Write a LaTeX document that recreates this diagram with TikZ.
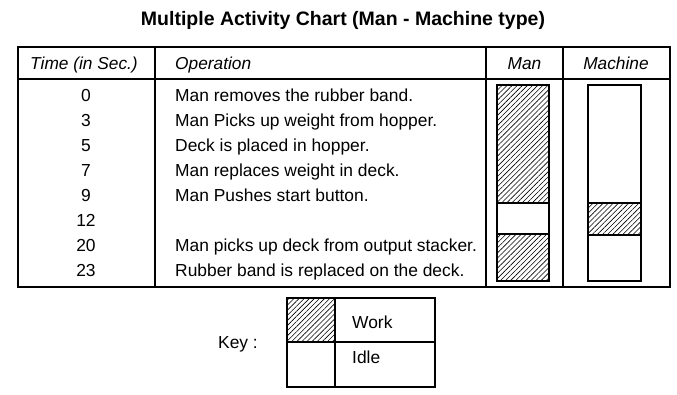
\documentclass[tikz,border=0pt]{standalone}
\usepackage{fontspec}
\setmainfont{Liberation Sans}
\usetikzlibrary{patterns.meta}

\begin{document}
\begin{tikzpicture}[x=1pt, y=-1pt,
  frame/.style={line width=1.7pt},
  rule/.style={line width=1.2pt},
  bar/.style={draw, line width=1.4pt},
  hatch/.style={pattern={Lines[angle=45, distance=3.6pt, line width=0.6pt]}},
  work/.style={bar, hatch},
  idle/.style={bar, fill=white},
  head/.style={font=\fontsize{17.3}{19}\selectfont\itshape, inner sep=0pt},
  cell/.style={font=\fontsize{17.4}{19}\selectfont, inner sep=0pt}
]
  \useasboundingbox (0,0) rectangle (677,394);
  \node[font=\fontsize{19.5}{22}\selectfont\bfseries, inner sep=0pt, anchor=base] (title) at (343,25)
    {Multiple Activity Chart (Man - Machine type)};

  % table frame and rules
  \draw[frame] (18,47) rectangle (670,287);
  \draw[rule] (18,79) -- (670,79);
  \foreach \x in {155,486,563}
    \draw[rule] (\x,47) -- (\x,287);

  \node[head, anchor=base] (htime) at (84,69) {Time (in Sec.)};
  \node[head, anchor=base west] (hop) at (175,69) {Operation};
  \node[head, anchor=base] (hman) at (524.5,69) {Man};
  \node[head, anchor=base] (hmach) at (616,69) {Machine};

  \foreach \t/\op [count=\i from 0] in {
      0/{Man removes the rubber band.},
      3/{Man Picks up weight from hopper.},
      5/{Deck is placed in hopper.},
      7/{Man replaces weight in deck.},
      9/{Man Pushes start button.},
      12/{},
      20/{Man picks up deck from output stacker.},
      23/{Rubber band is replaced on the deck.}} {
    \node[cell, anchor=base] (t\i) at (86, 101+25*\i) {\t};
    \node[cell, anchor=base west] (op\i) at (175, 101+25*\i) {\op};
  }

  % man bar
  \draw[work] (497,85) rectangle (549,203);
  \draw[idle] (497,203) rectangle (549,234);
  \draw[work] (497,234) rectangle (549,281);
  % machine bar
  \draw[idle] (588,85) rectangle (641,203);
  \draw[work] (588,203) rectangle (641,235);
  \draw[idle] (588,235) rectangle (641,281);

  % key
  \node[cell, anchor=base] (key) at (238,348) {Key :};
  \fill[hatch] (287,298) rectangle (335,342);
  \draw[bar] (287,298) rectangle (435,387);
  \draw[bar] (287,342) -- (435,342);
  \draw[bar] (335,298) -- (335,387);
  \node[cell, anchor=base west] (work) at (352,328) {Work};
  \node[cell, anchor=base west] (idle) at (352,363) {Idle};
\end{tikzpicture}
\end{document}
